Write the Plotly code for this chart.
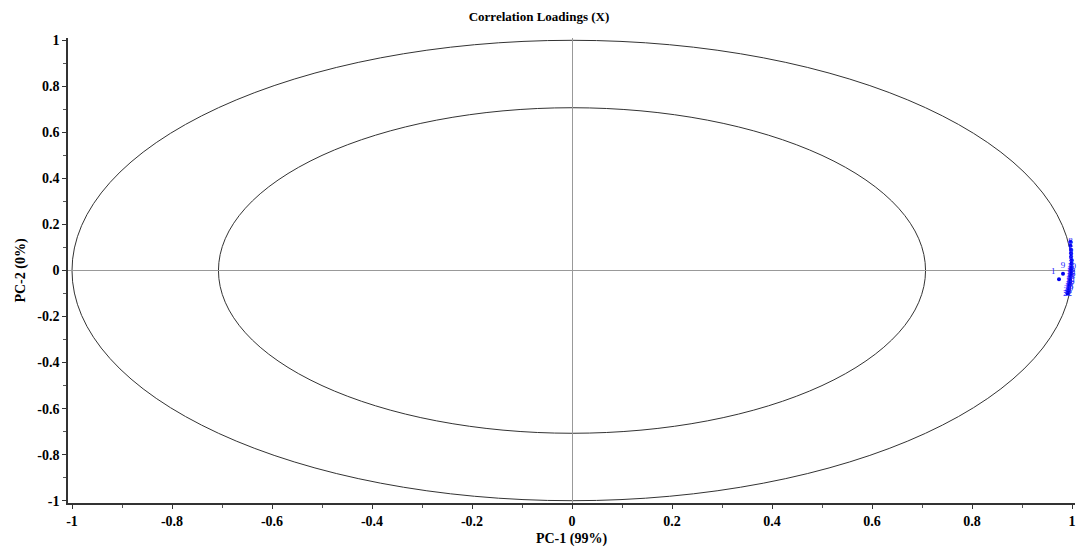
import plotly.graph_objects as go

# Correlation loadings (PC-1, PC-2) of the X variables
pc1 = [0.997, 0.997, 0.998, 0.998, 0.998, 0.999, 0.999, 0.999, 0.998, 0.998,
       0.998, 0.997, 0.996, 0.996, 0.995, 0.994, 0.993, 0.992, 0.991, 0.982, 0.974]
pc2 = [0.125, 0.108, 0.090, 0.075, 0.060, 0.045, 0.030, 0.015, 0.005, -0.005,
       -0.015, -0.025, -0.040, -0.050, -0.060, -0.070, -0.080, -0.090, -0.100, -0.014, -0.038]
labels = ["8", "7", "6", "4", "2", "5", "3", "10", "11", "12",
          "13", "14", "15", "16", "17", "18", "20", "21", "22", "9", "1"]
label_pos = ["middle center"] * 19 + ["top center", "top left"]

tick_vals = [-1, -0.8, -0.6, -0.4, -0.2, 0, 0.2, 0.4, 0.6, 0.8, 1]
tick_text = ["-1", "-0.8", "-0.6", "-0.4", "-0.2", "0", "0.2", "0.4", "0.6", "0.8", "1"]

inner_r = 0.5 ** 0.5
outer_r = 1.0

serif = "Liberation Serif, Times New Roman, serif"

fig = go.Figure()
fig.add_trace(go.Scatter(
    x=pc1, y=pc2, mode="markers+text", text=labels,
    textposition=label_pos,
    textfont=dict(family=serif, size=9, color="#2222ff"),
    marker=dict(color="#0000ee", size=4),
    cliponaxis=False, showlegend=False,
))

for r in (outer_r, inner_r):
    fig.add_shape(type="circle", xref="x", yref="y", x0=-r, y0=-r, x1=r, y1=r,
                  line=dict(color="#333333", width=1), layer="below")

axis_common = dict(
    tickvals=tick_vals, ticktext=tick_text,
    tickfont=dict(family=serif, size=14, color="black", weight="bold"),
    ticks="outside", ticklen=4, tickwidth=1, tickcolor="#333333",
    minor=dict(dtick=0.1, ticks="outside", ticklen=3, tickcolor="#555555", tick0=0),
    showline=True, linecolor="#333333", linewidth=1.5,
    showgrid=False, zeroline=True, zerolinecolor="#999999", zerolinewidth=1,
)

fig.update_layout(
    width=1078, height=549,
    margin=dict(l=68, r=3, t=38, b=46),
    paper_bgcolor="white", plot_bgcolor="white",
    title=dict(text="Correlation Loadings (X)", x=0.5, xanchor="center", y=0.978, yanchor="top",
               font=dict(family=serif, size=13, color="black", weight="bold")),
    xaxis=dict(range=[-1.008, 1.006], **axis_common,
               title=dict(text="PC-1 (99%)", standoff=6,
                          font=dict(family=serif, size=14, color="black", weight="bold"))),
    yaxis=dict(range=[-1.01, 1.01], **axis_common,
               title=dict(text="PC-2 (0%)", standoff=8,
                          font=dict(family=serif, size=14, color="black", weight="bold"))),
)

fig.write_html("out.html", config={"displayModeBar": False},
               post_script="document.body.style.margin='0';document.body.style.overflow='hidden';")
